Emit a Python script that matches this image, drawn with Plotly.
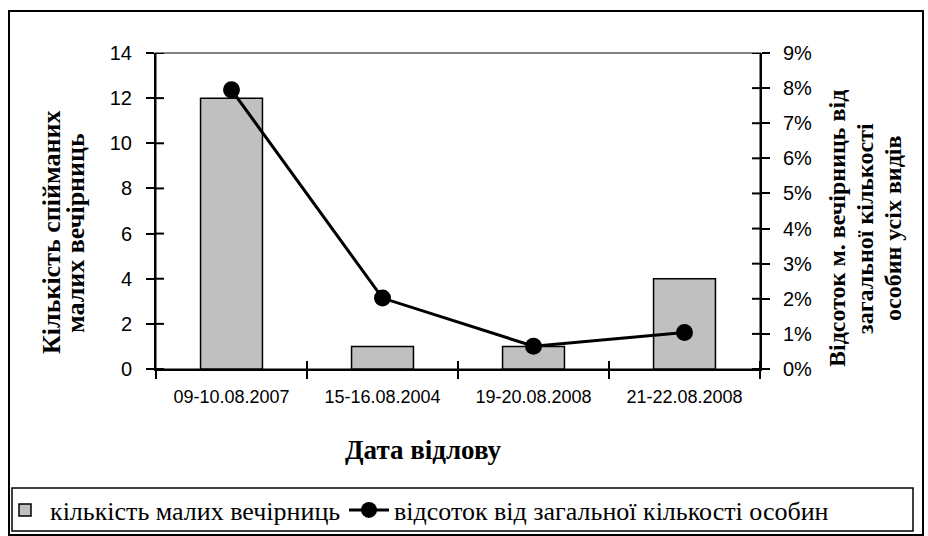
import plotly.graph_objects as go

# ---- data ----
dates = ["09-10.08.2007", "15-16.08.2004", "19-20.08.2008", "21-22.08.2008"]
counts = [12, 1, 1, 4]
percent = [0.0795, 0.0202, 0.0065, 0.0104]
left_ticks = list(range(0, 15, 2))
right_ticks = [i / 100 for i in range(0, 10)]

W, H = 928, 536
L, R, T, B = 156, 760, 53, 369  # plot area in px


def px_x(px):
    return (px - L) / (R - L)


def px_y(py):
    return (B - py) / (B - T)


SANS = "Liberation Sans, Arial, sans-serif"
SERIF = "Liberation Serif, Times New Roman, serif"

fig = go.Figure()
fig.add_trace(go.Bar(
    x=dates, y=counts, name="кількість малих вечірниць",
    width=0.41, marker=dict(color="#C0C0C0", line=dict(color="black", width=1.5)),
    yaxis="y", legend="legend",
))
fig.add_trace(go.Scatter(
    x=dates, y=percent, name="відсоток від загальної кількості особин",
    mode="lines+markers", line=dict(color="black", width=3),
    marker=dict(color="black", size=17), yaxis="y2", legend="legend2",
))

xtick_font = dict(family=SANS, size=18, color="black")
ytick_font = dict(family=SANS, size=20, color="black")
leg_font = dict(family=SERIF, size=26, color="black")
fig.update_layout(
    width=W, height=H, autosize=False,
    margin=dict(l=L, r=W - R, t=T, b=H - B),
    paper_bgcolor="white", plot_bgcolor="white",
    showlegend=True,
    xaxis=dict(type="category", showline=True, linecolor="black", linewidth=2,
               ticks="outside", ticklen=8, tickwidth=2, tickcolor="black",
               tickson="boundaries", tickfont=xtick_font, showgrid=False,
               zeroline=False, range=[-0.5, 3.5], ticklabelstandoff=10),
    yaxis=dict(range=[0, 14], tickvals=left_ticks, showline=True, linecolor="black",
               linewidth=2, ticks="outside", ticklen=8, tickwidth=2, tickcolor="black",
               tickfont=ytick_font, showgrid=False, zeroline=False, ticklabelstandoff=10),
    yaxis2=dict(range=[0, 0.09], tickvals=right_ticks, tickformat=".0%", overlaying="y",
                side="right", showline=True, linecolor="black", linewidth=2,
                ticks="outside", ticklen=8, tickwidth=2, tickcolor="black",
                tickfont=ytick_font, showgrid=False, zeroline=False, ticklabelstandoff=9),
    legend=dict(orientation="h", xref="container", yref="container",
                x=-3 / W, y=1 - 510 / H, xanchor="left", yanchor="middle",
                font=leg_font, bgcolor="rgba(0,0,0,0)", borderwidth=0, itemwidth=40),
    legend2=dict(orientation="h", xref="container", yref="container",
                 x=344 / W, y=1 - 510 / H, xanchor="left", yanchor="middle",
                 font=leg_font, bgcolor="rgba(0,0,0,0)", borderwidth=0, itemwidth=40),
)

shapes = []
# grey plot-area border
shapes.append(dict(type="rect", xref="paper", yref="paper", x0=0, x1=1, y0=0, y1=1,
                   line=dict(color="#808080", width=2), layer="below"))
# inner halves of cross ticks
for v in left_ticks:
    shapes.append(dict(type="line", xref="paper", yref="y", x0=0, x1=8 / (R - L), y0=v, y1=v,
                       line=dict(color="black", width=2)))
for v in right_ticks:
    shapes.append(dict(type="line", xref="paper", yref="y2", x0=1 - 8 / (R - L), x1=1, y0=v, y1=v,
                       line=dict(color="black", width=2)))
for i in range(1, len(dates) + 1):
    shapes.append(dict(type="line", xref="x", yref="paper", x0=i - 0.5, x1=i - 0.5,
                       y0=0, y1=8 / (B - T), line=dict(color="black", width=2)))
# outer chart border
shapes.append(dict(type="rect", xref="paper", yref="paper",
                   x0=px_x(9), x1=px_x(923), y0=px_y(535), y1=px_y(11),
                   line=dict(color="black", width=2)))
# legend box
shapes.append(dict(type="rect", xref="paper", yref="paper",
                   x0=px_x(12), x1=px_x(913), y0=px_y(531), y1=px_y(488),
                   line=dict(color="black", width=1.5)))
fig.update_layout(shapes=shapes)

ann = []
for txt, xp in [("Кількість спійманих", 52), ("малих вечірниць", 76)]:
    ann.append(dict(text="<b>%s</b>" % txt, xref="paper", yref="paper", x=px_x(xp), y=px_y(233),
                    textangle=-90, showarrow=False, xanchor="center", yanchor="middle",
                    font=dict(family=SERIF, size=26, color="black")))
for txt, xp in [("Відсоток м. вечірниць від", 837), ("загальної кількості", 865),
                ("особин усіх видів", 893)]:
    ann.append(dict(text="<b>%s</b>" % txt, xref="paper", yref="paper", x=px_x(xp), y=px_y(229),
                    textangle=-90, showarrow=False, xanchor="center", yanchor="middle",
                    font=dict(family=SERIF, size=24, color="black")))
ann.append(dict(text="<b>Дата відлову</b>", xref="paper", yref="paper", x=px_x(423), y=px_y(450),
                showarrow=False, xanchor="center", yanchor="middle",
                font=dict(family=SERIF, size=27, color="black")))
fig.update_layout(annotations=ann)

fig.write_html("out.html", config={"displayModeBar": False},
               post_script="document.body.style.margin='0';document.body.style.overflow='hidden';")
